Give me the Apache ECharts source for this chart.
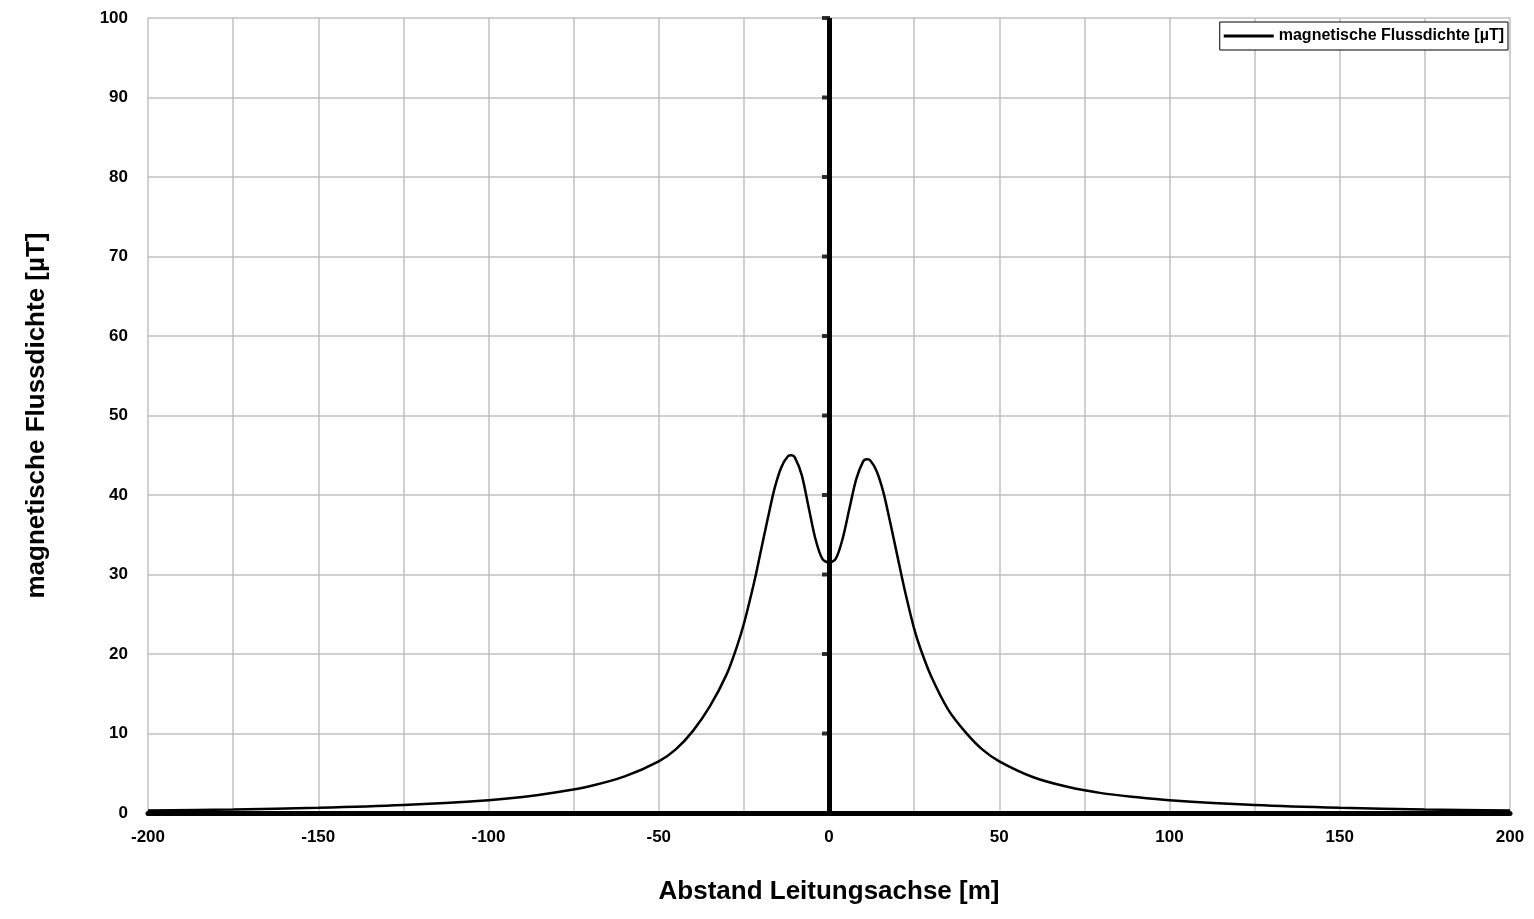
<!DOCTYPE html>
<html><head><meta charset="utf-8">
<script src="https://cdn.jsdelivr.net/npm/echarts@6/dist/echarts.min.js"></script>
<style>html,body{margin:0;padding:0;background:#fff}#c{width:1534px;height:919px}</style>
</head><body><div id="c"></div>
<script>
// Abstand [m] and Flussdichte [µT]
const distance = [-200, -175, -150, -125, -100, -90, -80, -70, -60, -50, -45, -40, -35, -30, -27, -25, -22, -20, -18, -16, -14, -12, -11, -10, -8, -6, -4, -2, 0,
  2, 4, 6, 8, 10, 11, 12, 14, 16, 18, 20, 22, 25, 27, 30, 35, 40, 45, 50, 60, 70, 80, 90, 100, 125, 150, 175, 200]
const flux = [0.3, 0.45, 0.65, 1.0, 1.6, 2.0, 2.6, 3.4, 4.6, 6.5, 8.0, 10.3, 13.4, 17.5, 21, 23.8, 29, 33, 37, 40.8, 43.5, 44.9, 45, 44.7, 42.5, 38.5, 34.5, 32, 31.5,
  32, 34.5, 38.3, 42, 44.2, 44.5, 44.4, 43, 40.3, 36.5, 32.5, 28.5, 23.2, 20.5, 17.2, 13, 10.2, 8.0, 6.5, 4.5, 3.3, 2.5, 2.0, 1.6, 1.0, 0.65, 0.45, 0.3]
const yTicks = [0, 10, 20, 30, 40, 50, 60, 70, 80, 90, 100]

const font = 'Liberation Sans, Arial, sans-serif'
const chart = echarts.init(document.getElementById('c'))
chart.setOption({
  animation: false,
  grid: { left: 148, right: 24, top: 18, bottom: 106 },
  legend: {
    right: 26, top: 22, itemWidth: 50, itemHeight: 10, icon: 'path://M0,3.5H50V6.5H0Z',
    data: ['magnetische Flussdichte [µT]'],
    borderColor: '#000', borderWidth: 1, padding: [6, 4], borderRadius: 0,
    backgroundColor: '#fff',
    textStyle: { fontFamily: font, fontWeight: 'bold', fontSize: 16, color: '#000' }
  },
  xAxis: {
    type: 'value', min: -200, max: 200, interval: 25,
    name: 'Abstand Leitungsachse [m]', nameLocation: 'middle', nameGap: 66,
    nameTextStyle: { fontFamily: font, fontWeight: 'bold', fontSize: 26, color: '#000' },
    axisLine: { show: true, onZero: false, lineStyle: { color: '#000', width: 5 } },
    axisTick: { show: false },
    axisLabel: { margin: 16, fontFamily: font, fontWeight: 'bold', fontSize: 17, color: '#000',
      formatter: v => (v % 50 === 0 ? String(v) : '') },
    splitLine: { show: true, lineStyle: { color: '#c0c0c0', width: 1.5 } }
  },
  yAxis: {
    type: 'value', min: 0, max: 100, interval: 10,
    name: 'magnetische Flussdichte [µT]', nameLocation: 'middle', nameGap: 98,
    nameTextStyle: { fontFamily: font, fontWeight: 'bold', fontSize: 26, color: '#000' },
    axisLine: { show: false }, axisTick: { show: false },
    axisLabel: { margin: 20, fontFamily: font, fontWeight: 'bold', fontSize: 17, color: '#000' },
    splitLine: { show: true, lineStyle: { color: '#c0c0c0', width: 1.5 } }
  },
  series: [{
    name: 'magnetische Flussdichte [µT]', type: 'line', smooth: 0.3, showSymbol: false,
    lineStyle: { color: '#000', width: 2.5 }, itemStyle: { color: '#000' },
    data: distance.map((d, i) => [d, flux[i]]),
    markLine: { silent: true, symbol: 'none', label: { show: false },
      lineStyle: { color: '#000', width: 5, type: 'solid' }, data: [{ xAxis: 0 }] }
  }, {
    name: 'ticks', type: 'scatter', symbol: 'rect', symbolSize: [8, 4], symbolOffset: [-3, 0], silent: true,
    itemStyle: { color: '#000' }, z: 5,
    data: yTicks.map(v => [0, v])
  }]
})
</script></body></html>
